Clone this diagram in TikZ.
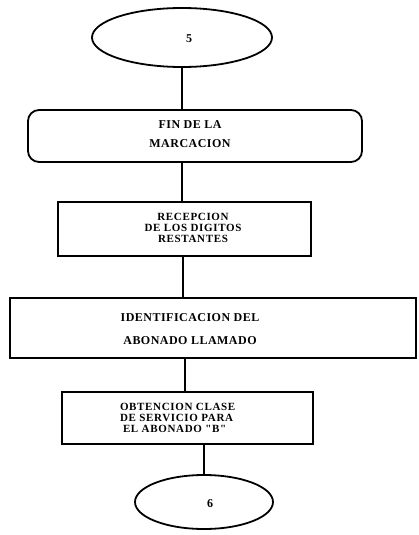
\documentclass[tikz,border=0pt]{standalone}
\usepackage{fontspec}
\setmainfont{Liberation Serif}
\newfontfamily\boxfont[LetterSpace=4]{Liberation Serif}
\newfontfamily\tightfont[LetterSpace=6]{Liberation Serif}
\usetikzlibrary{shapes.geometric}
\begin{document}
\begin{tikzpicture}[x=1pt,y=-1pt,
  every node/.style={inner sep=0pt, outer sep=0pt},
  stepbox/.style={draw, line width=1.8pt, rectangle},
  roundbox/.style={stepbox, rounded corners=11pt},
  terminal/.style={draw, line width=1.8pt, ellipse},
  label/.style={font=\boxfont\bfseries\fontsize{12}{#1}\selectfont},
  denselabel/.style={font=\tightfont\bfseries\fontsize{11}{11}\selectfont},
  link/.style={line width=2pt}]
\useasboundingbox (0,0) rectangle (418,535);

% terminals
\node[terminal, minimum width=180pt, minimum height=59pt] (e5) at (182,37.5) {};
\node[label=12] (n5) at (189,38.5) {5};
\node[terminal, minimum width=138pt, minimum height=54pt] (e6) at (204,502) {};
\node[label=12] (n6) at (210,503.5) {6};

% process boxes
\node[roundbox, minimum width=334pt, minimum height=52pt] (b1) at (195,136) {};
\node[stepbox, minimum width=253pt, minimum height=54pt] (b2) at (184.5,229) {};
\node[stepbox, minimum width=406pt, minimum height=60pt] (b3) at (213,328) {};
\node[stepbox, minimum width=251pt, minimum height=52pt] (b4) at (187.5,418) {};

% texts
\node[label=19, align=center] (t1) at (190,134.5) {FIN DE LA\\MARCACION};
\node[denselabel, align=center] (t2) at (193,228) {RECEPCION\\DE LOS DIGITOS\\RESTANTES};
\node[label=23, align=center] (t3) at (190,329.5) {IDENTIFICACION DEL\\ABONADO LLAMADO};
\node[denselabel, align=left, anchor=west] (t4) at (120,417.5)
  {OBTENCION CLASE\\DE SERVICIO PARA\\\hspace{3pt}EL ABONADO "B"};

% connectors
\draw[link] (e5.south) -- (e5.south |- b1.north);
\draw[link] (b1.south -| e5.south) -- (b2.north -| e5.south);
\draw[link] ([xshift=-1.5pt]b2.south) -- ([xshift=-1.5pt]b2.south |- b3.north);
\draw[link] ([xshift=-2.5pt]b4.north |- b3.south) -- ([xshift=-2.5pt]b4.north);
\draw[link] (e6.north |- b4.south) -- (e6.north);
\end{tikzpicture}
\end{document}
